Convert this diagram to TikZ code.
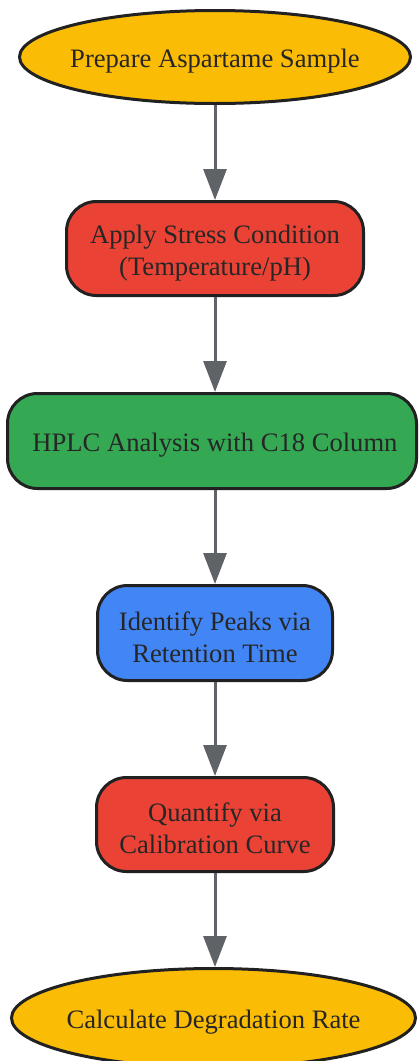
\documentclass[tikz,border=0pt]{standalone}
\usepackage{fontspec}
\setmainfont{Liberation Serif}
\usetikzlibrary{shapes.geometric,arrows.meta}
\definecolor{cyellow}{HTML}{FBBC05}
\definecolor{cred}{HTML}{EA4335}
\definecolor{cgreen}{HTML}{34A853}
\definecolor{cblue}{HTML}{4285F4}
\definecolor{cborder}{HTML}{212121}
\definecolor{carrow}{HTML}{5F6368}
\definecolor{ctext}{HTML}{262626}
\newcommand{\tstrut}{\rule{0pt}{27pt}}
\tikzset{
  base/.style={draw=cborder, line width=3pt, text=ctext, inner sep=0pt, align=center,
    font=\fontsize{26.6}{32}\selectfont},
  terminal/.style={base, ellipse, fill=cyellow, inner xsep=-50pt},
  stepbox/.style={base, rectangle, rounded corners=30pt},
  flow/.style={draw=carrow, line width=3pt, -{Triangle[length=31pt,width=23pt]}}
}
\begin{document}
\begin{tikzpicture}[x=1pt,y=-1pt]
\useasboundingbox (0,0) rectangle (418,1061);
\node[terminal, minimum width=391pt, minimum height=93pt] (n1) at (215,57) {\tstrut Prepare Aspartame Sample};
\node[stepbox, fill=cred, minimum width=297pt, minimum height=94pt] (n2) at (215,248.5) {\tstrut Apply Stress Condition\\(Temperature/pH)};
\node[stepbox, fill=cgreen, minimum width=409pt, minimum height=95pt] (n3) at (212,441) {\tstrut\hspace*{6pt}HPLC Analysis with C18 Column};
\node[stepbox, fill=cblue, minimum width=235pt, minimum height=95pt] (n4) at (215,633) {\tstrut Identify Peaks via\\Retention Time};
\node[stepbox, fill=cred, minimum width=237pt, minimum height=94pt] (n5) at (215,824.5) {\tstrut Quantify via\\Calibration Curve};
\node[terminal, minimum width=404pt, minimum height=99pt] (n6) at (213.5,1018) {\tstrut Calculate Degradation Rate};
\draw[flow] (n1.south) -- (n2.north);
\draw[flow] (n2.south) -- (n2.south |- n3.north);
\draw[flow] (n2.south |- n3.south) -- (n4.north);
\draw[flow] (n4.south) -- (n5.north);
\draw[flow] (n5.south) -- (n5.south |- n6.north);
\end{tikzpicture}
\end{document}
